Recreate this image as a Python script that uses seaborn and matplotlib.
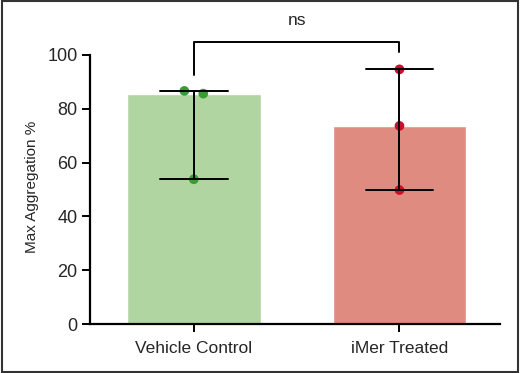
import numpy as np
import pandas as pd
import matplotlib
matplotlib.use("Agg")
import matplotlib.pyplot as plt
import seaborn as sns
from matplotlib.patches import Rectangle

groups = ["Vehicle Control", "iMer Treated"]
vehicle_vals = [86.6, 85.6, 53.8]
imer_vals = [94.6, 73.6, 49.8]
bar_colors = ["#b1d5a0", "#e08b80"]
point_colors = ["#3a9c35", "#c8102e"]
yticks = [0, 20, 40, 60, 80, 100]
sig_label = "ns"

df = pd.DataFrame({
    "group": [groups[0]] * len(vehicle_vals) + [groups[1]] * len(imer_vals),
    "value": vehicle_vals + imer_vals,
})

sns.set_style("ticks")
plt.rcParams["font.family"] = ["Liberation Sans", "DejaVu Sans"]

fig = plt.figure(figsize=(5.2, 3.73), dpi=100)
ax = fig.add_axes([0.173, 0.131, 0.789, 0.722])

sns.barplot(data=df, x="group", y="value", hue="group", palette=bar_colors,
            estimator=np.median, errorbar=None, width=0.65, saturation=1,
            legend=False, ax=ax, zorder=1)
n_before = len(ax.collections)
sns.swarmplot(data=df, x="group", y="value", hue="group", palette=point_colors,
              size=7, legend=False, ax=ax, zorder=3)

ax.set_xlim(-0.505, 1.49)
ax.set_ylim(0, 100)

# spread overlapping swarm points symmetrically about the category centre
fig.canvas.draw()
gap = 0.092
for coll in ax.collections[n_before:]:
    # drop seaborn's draw-time swarm re-layout so the adjusted offsets stay
    if "draw" in coll.__dict__:
        del coll.__dict__["draw"]
    offs = coll.get_offsets().copy()
    if len(offs) == 0:
        continue
    centre = np.round(np.median(offs[:, 0]))
    order = np.argsort(offs[:, 1])
    clusters, cur = [], [order[0]]
    for a, b in zip(order[:-1], order[1:]):
        if abs(offs[b, 1] - offs[a, 1]) < 3.0:
            cur.append(b)
        else:
            clusters.append(cur)
            cur = [b]
    clusters.append(cur)
    for cl in clusters:
        if len(cl) > 1:
            cl = sorted(cl, key=lambda k: -offs[k, 1])
            n = len(cl)
            for j, k in enumerate(cl):
                offs[k, 0] = centre + (j - (n - 1) / 2) * gap
        else:
            offs[cl[0], 0] = centre
    coll.set_offsets(offs)

# range error bars (min to max)
for i, vals in enumerate([vehicle_vals, imer_vals]):
    lo, hi = min(vals), max(vals)
    ax.plot([i, i], [lo, hi], color="black", lw=1.4, zorder=4)
    for v in (lo, hi):
        ax.plot([i - 0.165, i + 0.165], [v, v], color="black", lw=1.4, zorder=4)

# significance bracket
top = 104.8
ax.plot([0, 0, 1, 1], [92.5, top, top, 101.0], color="black", lw=1.4,
        clip_on=False, zorder=5)
ax.text(0.5, top + 5.0, sig_label, ha="center", va="bottom", fontsize=12.5)

ax.set_yticks(yticks)
ax.set_xlabel("")
ax.set_ylabel("Max Aggregation %", fontsize=11)
ax.yaxis.set_label_coords(-0.125, 0.51)
ax.tick_params(axis="y", labelsize=13, length=6, width=1.4, color="black", pad=3)
ax.tick_params(axis="x", labelsize=12.5, length=6, width=1.4, color="black", pad=6)
for s in ["left", "bottom"]:
    ax.spines[s].set_linewidth(1.6)
    ax.spines[s].set_color("black")
sns.despine(ax=ax)

fig.patches.append(Rectangle((0.003, 0.004), 0.993, 0.992, transform=fig.transFigure,
                             fill=False, edgecolor="#333333", lw=1.5))

fig.savefig("out.png", dpi=100)
